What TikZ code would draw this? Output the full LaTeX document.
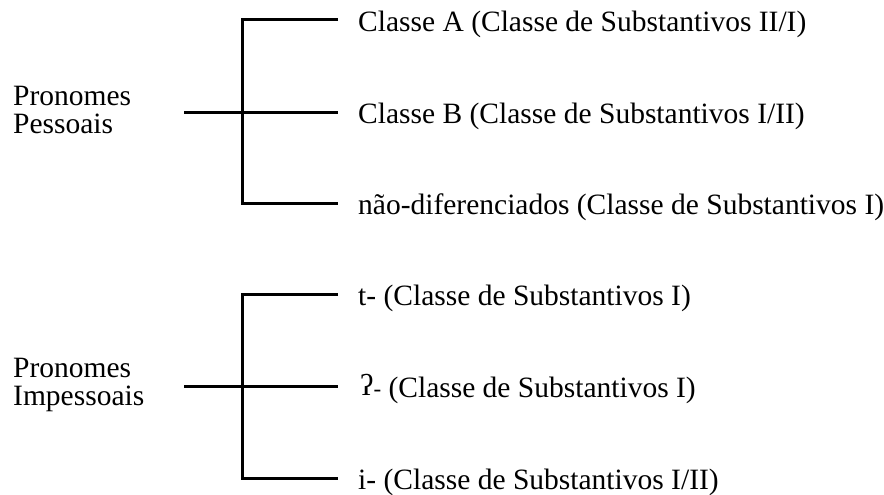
\documentclass[tikz,border=0pt]{standalone}
\usepackage{fontspec}
\setmainfont{Liberation Serif}
\begin{document}
\begin{tikzpicture}[x=1pt,y=-1pt,
  txt/.style={anchor=base west, inner sep=0pt, font=\fontsize{29.5}{27}\selectfont},
  grp/.style={anchor=base west, inner sep=0pt, align=left, font=\fontsize{29.5}{27}\selectfont},
  conn/.style={line width=3pt}]
\useasboundingbox (0,0) rectangle (884,495);
% Group 1
\node[grp] (pp) at (13,133) {Pronomes\\[1pt]Pessoais};
\coordinate (s1) at (184,112);
\coordinate (j1t) at (242,20);
\coordinate (j1b) at (242,203);
\coordinate (e1a) at (338,20);
\coordinate (e1b) at (338,112);
\coordinate (e1c) at (338,203);
\node[txt] (a1) at (358,32) {Classe A (Classe de Substantivos II/I)};
\node[txt] (a2) at (358,124) {Classe B (Classe de Substantivos I/II)};
\node[txt] (a3) at (358,214) {não-diferenciados (Classe de Substantivos I)};
\draw[conn] (s1) -- (e1b);
\draw[conn] (e1a) -- (j1t) -- (j1b) -- (e1c);
% Group 2
\node[grp] (pi) at (13,405) {Pronomes\\[1pt]Impessoais};
\coordinate (s2) at (184,386);
\coordinate (j2t) at (242,294);
\coordinate (j2b) at (242,478);
\coordinate (e2a) at (338,294);
\coordinate (e2b) at (338,386);
\coordinate (e2c) at (338,478);
\node[txt] (b1) at (358,305) {t- (Classe de Substantivos I)};
\node[txt] (b2) at (360,397) {\raisebox{2pt}{\fontsize{30}{30}\selectfont ʔ}\raisebox{1pt}{\fontsize{23}{23}\selectfont -} (Classe de Substantivos I)};
\node[txt] (b3) at (358,489) {i- (Classe de Substantivos I/II)};
\draw[conn] (s2) -- (e2b);
\draw[conn] (e2a) -- (j2t) -- (j2b) -- (e2c);
\end{tikzpicture}
\end{document}
